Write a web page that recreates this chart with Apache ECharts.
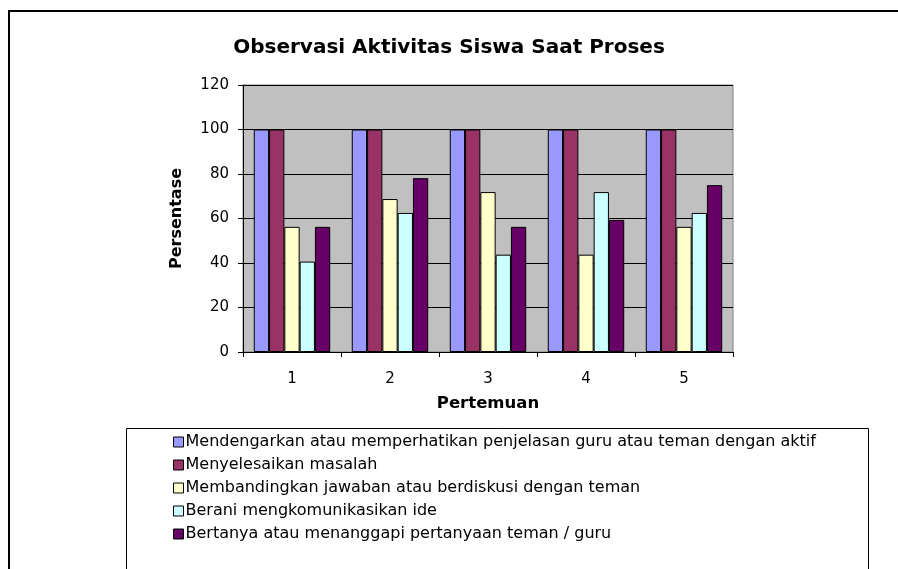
<!DOCTYPE html>
<html>
<head>
<meta charset="utf-8">
<title>Observasi Aktivitas Siswa Saat Proses</title>
<script src="https://cdn.jsdelivr.net/npm/echarts@6/dist/echarts.min.js"></script>
<style>
html,body{margin:0;padding:0;background:#fff;}
#chart{width:898px;height:569px;}
</style>
</head>
<body>
<div id="chart"></div>
<script>
var categories = ["1", "2", "3", "4", "5"];
var seriesNames = [
    "Mendengarkan atau memperhatikan penjelasan guru atau teman dengan aktif",
    "Menyelesaikan masalah",
    "Membandingkan jawaban atau berdiskusi dengan teman",
    "Berani mengkomunikasikan ide",
    "Bertanya atau menanggapi pertanyaan teman / guru"];
var mendengarkan = [100, 100, 100, 100, 100];
var menyelesaikan = [100, 100, 100, 100, 100];
var membandingkan = [56.25, 68.75, 71.875, 43.75, 56.25];
var berani = [40.625, 62.5, 43.75, 71.875, 62.5];
var bertanya = [56.25, 78.125, 56.25, 59.375, 75];
var colors = ["#9999FF", "#993366", "#FFFFCC", "#CCFFFF", "#660066"];

var font = "DejaVu Sans";

function makeSeries(name, data, color) {
    return {
        name: name,
        type: 'bar',
        data: data,
        barGap: 0,
        barCategoryGap: '22%',
        itemStyle: {color: color, borderColor: '#000', borderWidth: 1},
        emphasis: {disabled: true}
    };
}

var myChart = echarts.init(document.getElementById('chart'));
var values = [mendengarkan, menyelesaikan, membandingkan, berani, bertanya];
var series = [];
for (var i = 0; i < values.length; i++) {
    series.push(makeSeries(seriesNames[i], values[i], colors[i]));
}

var option = {
    animation: false,
    backgroundColor: '#fff',
    title: {
        text: 'Observasi Aktivitas Siswa Saat Proses',
        left: 'center',
        top: 33,
        textStyle: {fontFamily: font, fontSize: 20, fontWeight: 'bold', color: '#000'}
    },
    legend: {
        orient: 'vertical',
        left: 173,
        top: 434,
        padding: 0,
        itemWidth: 10,
        itemHeight: 10,
        itemGap: 7,
        icon: 'rect',
        itemStyle: {borderColor: '#000', borderWidth: 1},
        textStyle: {fontFamily: font, fontSize: 16, lineHeight: 16, color: '#000', padding: [0, 0, 0, -3]},
        data: seriesNames
    },
    grid: {
        left: 243,
        top: 85,
        width: 490,
        height: 267,
        show: true,
        backgroundColor: '#C0C0C0',
        borderColor: '#808080',
        borderWidth: 1
    },
    xAxis: {
        type: 'category',
        data: categories,
        name: 'Pertemuan',
        nameLocation: 'middle',
        nameGap: 43,
        nameTextStyle: {fontFamily: font, fontSize: 16.5, fontWeight: 'bold', color: '#000'},
        axisLine: {lineStyle: {color: '#000', width: 1}},
        axisTick: {show: true, length: 5, lineStyle: {color: '#000'}},
        axisLabel: {margin: 20, fontFamily: font, fontSize: 15, color: '#000'},
        splitLine: {show: false}
    },
    yAxis: {
        type: 'value',
        min: 0,
        max: 120,
        interval: 20,
        name: 'Persentase',
        nameLocation: 'middle',
        nameGap: 58,
        nameTextStyle: {fontFamily: font, fontSize: 16, fontWeight: 'bold', color: '#000'},
        axisLine: {show: true, lineStyle: {color: '#000', width: 1}},
        axisTick: {show: true, length: 5, lineStyle: {color: '#000'}},
        axisLabel: {margin: 14, fontFamily: font, fontSize: 15, color: '#000'},
        splitLine: {show: true, lineStyle: {color: '#000', width: 1}}
    },
    graphic: [
        {type: 'rect', shape: {x: 9, y: 11, width: 1000, height: 1000},
            style: {fill: null, stroke: '#000', lineWidth: 2}, silent: true},
        {type: 'rect', shape: {x: 126.5, y: 428.5, width: 742, height: 300},
            style: {fill: null, stroke: '#000', lineWidth: 1}, silent: true}
    ],
    series: series
};
myChart.setOption(option);
</script>
</body>
</html>
